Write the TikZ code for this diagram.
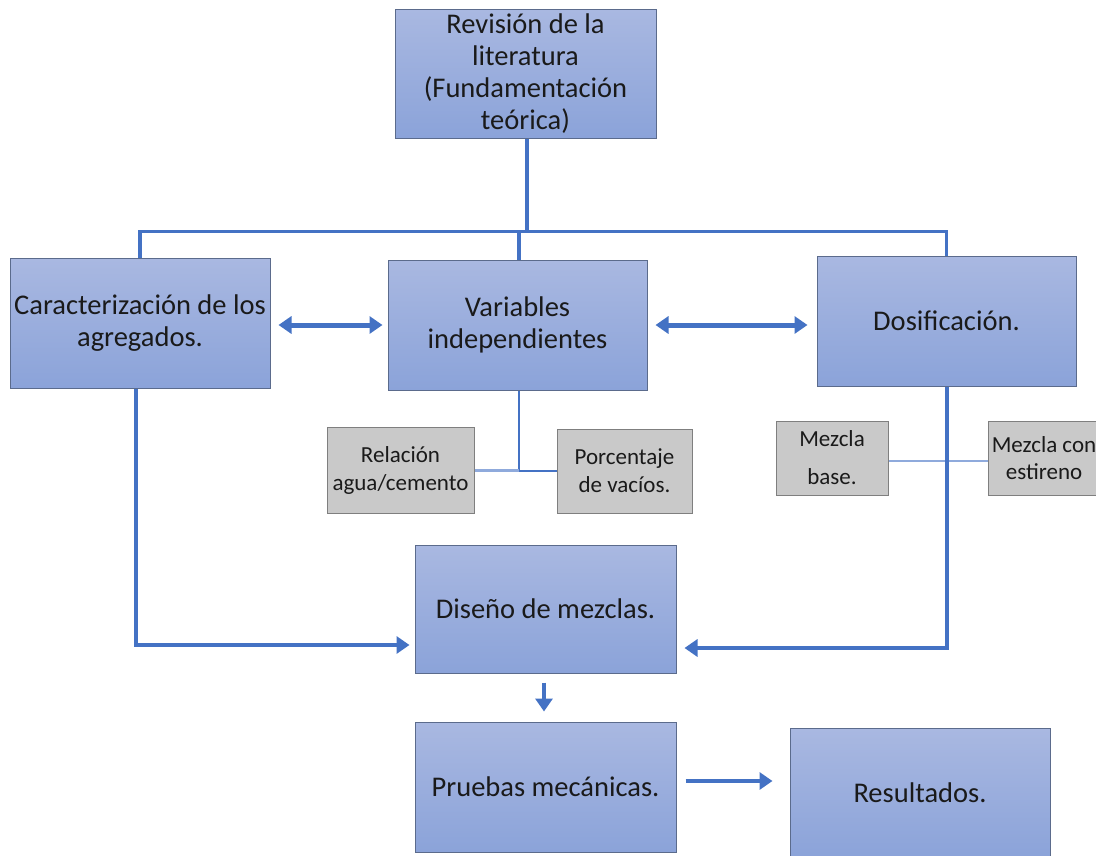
\documentclass[tikz,border=0pt]{standalone}
\usepackage{fontspec}
\setmainfont{Carlito}
\usetikzlibrary{arrows.meta}
\definecolor{ftop}{HTML}{A9B8E1}
\definecolor{fbot}{HTML}{8BA3D9}
\definecolor{bord}{HTML}{5B6B8C}
\definecolor{lblue}{HTML}{4472C4}
\definecolor{llight}{HTML}{8FAADC}
\definecolor{gfill}{HTML}{C9C9C9}
\definecolor{gbord}{HTML}{7F7F7F}
\definecolor{txt}{HTML}{1A1A1A}
\tikzset{
  box/.style={draw=bord, line width=1pt, top color=ftop, bottom color=fbot, align=center,
    text=txt, font=\fontsize{28.5}{32}\selectfont, inner sep=1pt},
  gbox/.style={draw=gbord, line width=1pt, fill=gfill, align=center,
    text=txt, font=\fontsize{23}{28}\selectfont, inner sep=1pt},
  conn/.style={draw=lblue, line width=4.5pt},
  bus/.style={draw=lblue, line width=3.2pt},
  thin/.style={draw=lblue, line width=2pt},
  thinl/.style={draw=llight, line width=2.6pt},
  tip/.tip={Triangle[width=17pt,length=13pt]},
  arr/.style={draw=lblue, line width=4.5pt, -tip},
  darr/.style={draw=lblue, line width=5pt, tip-tip},
}
\begin{document}
\begin{tikzpicture}[x=1pt,y=-1pt]
\useasboundingbox (0,0) rectangle (1096,855);
% main boxes
\node[box, minimum width=261pt, minimum height=129pt] (rev) at (525.5,73.5)
  {Revisión de la\\literatura\\(Fundamentación\\teórica)};
\node[box, minimum width=260pt, minimum height=130pt] (car) at (140,323)
  {Caracterización de los\\agregados.};
\node[box, minimum width=259pt, minimum height=130pt] (var) at (517.5,325)
  {Variables\\independientes};
\node[box, minimum width=259pt, minimum height=130pt] (dos) at (946.5,321)
  {Dosificación.};
\node[box, minimum width=261pt, minimum height=128pt] (dis) at (545.5,609)
  {Diseño de mezclas.};
\node[box, minimum width=261pt, minimum height=130pt] (pru) at (545.5,787)
  {Pruebas mecánicas.};
\node[box, minimum width=260pt, minimum height=130pt] (res) at (920,793)
  {Resultados.};
% gray boxes
\node[gbox, minimum width=147pt, minimum height=86pt] (rel) at (400.5,470)
  {Relación\\agua/cemento};
\node[gbox, minimum width=135pt, minimum height=84pt] (por) at (624.5,471)
  {Porcentaje\\de vacíos.};
\node[gbox, minimum width=112pt, minimum height=74pt, font=\fontsize{23}{38}\selectfont] (mb) at (832,458)
  {Mezcla\\base.};
\node[gbox, minimum width=112pt, minimum height=74pt, font=\fontsize{23}{27}\selectfont] (mce) at (1044,458)
  {Mezcla con\\estireno};
% top tree
\draw[conn] ([xshift=1.5pt]rev.south) -- ++(0,94) coordinate (j);
\draw[bus] (car.north) -- ++(0,-26) -| (dos.north);
\draw[conn] ([xshift=1.5pt]var.north) -- ++(0,-29);
% double arrows
\coordinate (a1) at (car.east |- var.west);
\coordinate (a2) at (dos.west |- var.east);
\draw[darr] ([xshift=8pt]a1) -- ([xshift=-5pt]var.west);
\draw[darr] ([xshift=8pt]var.east) -- ([xshift=-9pt]a2);
% variables to gray boxes
\draw[thin] ([xshift=1.5pt]var.south) -- ++(0,80) coordinate (vj);
\draw[thinl] (rel.east |- vj) -- (vj);
\draw[thin] (vj) -- (por.west |- vj);
% mezcla line
\draw[thinl] ([yshift=-3pt]mb.east) -- ([yshift=-3pt]mce.west);
% side arrows into diseño
\draw[arr] ([xshift=-4pt]car.south) |- ([xshift=-5pt,yshift=-36pt]dis.west);
\draw[arr] ([xshift=0.5pt]dos.south) |- ([xshift=8pt,yshift=-39pt]dis.east);
% bottom arrows
\draw[arr, line width=4pt] ([xshift=-1.5pt,yshift=-9pt]dis.south) -- ([xshift=-1.5pt,yshift=10pt]pru.north);
\coordinate (b1) at (res.west |- pru.east);
\draw[arr] ([xshift=9pt,yshift=6pt]pru.east) -- ([xshift=-17pt,yshift=6pt]b1);
\end{tikzpicture}
\end{document}
